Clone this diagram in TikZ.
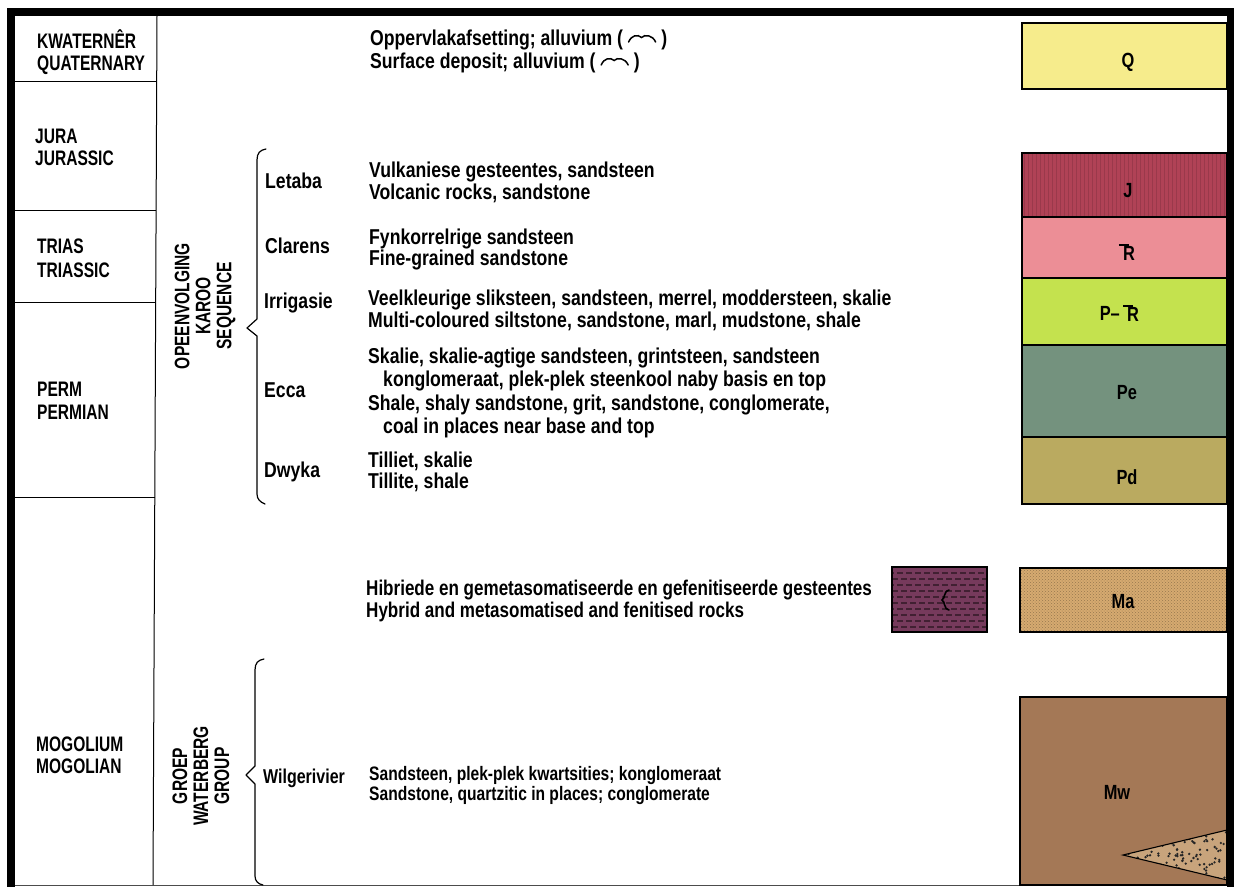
\documentclass[tikz,border=0pt]{standalone}
\usepackage{fontspec}
\setmainfont{Liberation Sans}[FakeStretch=0.82]
\newfontfamily\capsfont{Liberation Sans}[FakeStretch=0.74]
\newfontfamily\lowfont{Liberation Sans}[FakeStretch=0.8]
\usetikzlibrary{patterns}
\newcommand\alluv{\tikz[x=1pt,y=1pt,baseline=0pt]\draw[line width=1.5pt,line cap=round] (0,3) .. controls (3,10) and (9,11) .. (13,7.5) .. controls (16,11) and (24,10) .. (27,3);}
\definecolor{cQ}{RGB}{246,236,140}
\definecolor{cJ}{RGB}{176,66,86}
\definecolor{cTr}{RGB}{236,142,150}
\definecolor{cPTr}{RGB}{196,226,78}
\definecolor{cPe}{RGB}{116,146,126}
\definecolor{cPd}{RGB}{186,170,96}
\definecolor{cMa}{RGB}{214,170,112}
\definecolor{cMw}{RGB}{164,120,86}
\definecolor{cFen}{RGB}{118,58,92}
\definecolor{cTri}{RGB}{200,164,124}
\begin{document}
\begin{tikzpicture}[x=1pt,y=-1pt,
  lbl/.style={anchor=base west, inner sep=0pt, font=\fontsize{21.5}{24}\selectfont\bfseries},
  plbl/.style={anchor=base west, inner sep=0pt, font=\capsfont\fontsize{21}{23}\selectfont\bfseries},
  rlbl/.style={rotate=90, align=center, inner sep=0pt, font=\capsfont\fontsize{21}{21}\selectfont\bfseries},
  sym/.style={inner sep=0pt, font=\lowfont\fontsize{20.5}{23}\selectfont\bfseries},
  unitbox/.style={draw=black, line width=1.8pt},
  bracepath/.style={line width=1.2pt, line join=round, line cap=round},
  rulel/.style={line width=1pt},
  tbar/.style={line width=2.4pt}]
\useasboundingbox (0,0) rectangle (1234,887);
\fill[white] (0,0) rectangle (1234,887);
% frame
\fill[black] (7,8) rectangle (1234,16);
\fill[black] (7,8) rectangle (15,887);
\fill[black] (1227,8) rectangle (1234,887);
\draw[black!70, line width=1pt] (15,885) -- (1227,885);
% period column
\draw[rulel] (157,16) -- (153,885);
\draw[rulel] (15,81) -- (156.8,81);
\draw[rulel] (15,210) -- (156.3,210);
\draw[rulel] (15,302) -- (156,302);
\draw[rulel] (15,497) -- (155,497);
\node[plbl] (p1a) at (37,48) {KWATERNÊR};
\node[plbl] (p1b) at (37,70) {QUATERNARY};
\node[plbl] (p2a) at (35,143) {JURA};
\node[plbl] (p2b) at (35,165) {JURASSIC};
\node[plbl] (p3a) at (37,253) {TRIAS};
\node[plbl] (p3b) at (37,277) {TRIASSIC};
\node[plbl] (p4a) at (37,396) {PERM};
\node[plbl] (p4b) at (37,419) {PERMIAN};
\node[plbl] (p5a) at (36,751) {MOGOLIUM};
\node[plbl] (p5b) at (36,773) {MOGOLIAN};
% rotated group labels
\node[rlbl] (karoo) at (205,306) {OPEENVOLGING\\KAROO\\SEQUENCE};
\node[rlbl] (water) at (201,776) {GROEP\\WATERBERG\\GROUP};
% braces
\draw[bracepath] (266,149) .. controls (260,150) and (257,153) .. (257,160) -- (257,319) -- (247,328) -- (257,336) -- (257,494) .. controls (257,499) and (260,502) .. (265,504);
\draw[bracepath] (264,659) .. controls (258,660) and (255,663) .. (255,670) -- (255,766) -- (246,775) -- (255,784) -- (255,876) .. controls (255,881) and (258,884) .. (263,885);
% formation names
\node[lbl] (f1) at (265,188) {Letaba};
\node[lbl] (f2) at (265,253) {Clarens};
\node[lbl] (f3) at (264,308) {Irrigasie};
\node[lbl] (f4) at (264,397) {Ecca};
\node[lbl] (f5) at (264,477) {Dwyka};
\node[lbl, font=\lowfont\fontsize{20}{22}\selectfont\bfseries] (f6) at (263,783) {Wilgerivier};
% descriptions
\node[lbl] (d1a) at (370,45) {Oppervlakafsetting; alluvium ( \alluv\ )};
\node[lbl] (d1b) at (370,68) {Surface deposit; alluvium ( \alluv\ )};
\node[lbl] (d2a) at (369,177) {Vulkaniese gesteentes, sandsteen};
\node[lbl] (d2b) at (369,199) {Volcanic rocks, sandstone};
\node[lbl] (d3a) at (369,244) {Fynkorrelrige sandsteen};
\node[lbl] (d3b) at (369,265) {Fine-grained sandstone};
\node[lbl] (d4a) at (368,305) {Veelkleurige sliksteen, sandsteen, merrel, moddersteen, skalie};
\node[lbl] (d4b) at (368,327) {Multi-coloured siltstone, sandstone, marl, mudstone, shale};
\node[lbl] (d5a) at (368,363) {Skalie, skalie-agtige sandsteen, grintsteen, sandsteen};
\node[lbl] (d5b) at (383,386) {konglomeraat, plek-plek steenkool naby basis en top};
\node[lbl] (d5c) at (368,410) {Shale, shaly sandstone, grit, sandstone, conglomerate,};
\node[lbl] (d5d) at (383,433) {coal in places near base and top};
\node[lbl] (d6a) at (368,467) {Tilliet, skalie};
\node[lbl] (d6b) at (368,488) {Tillite, shale};
\node[lbl, font=\lowfont\fontsize{21.3}{24}\selectfont\bfseries] (d7a) at (366,595) {Hibriede en gemetasomatiseerde en gefenitiseerde gesteentes};
\node[lbl, font=\lowfont\fontsize{21.3}{24}\selectfont\bfseries] (d7b) at (366,617) {Hybrid and metasomatised and fenitised rocks};
\node[lbl, font=\lowfont\fontsize{19.5}{22}\selectfont\bfseries] (d8a) at (369,780) {Sandsteen, plek-plek kwartsities; konglomeraat};
\node[lbl, font=\lowfont\fontsize{19.5}{22}\selectfont\bfseries] (d8b) at (369,800) {Sandstone, quartzitic in places; conglomerate};
% legend boxes
\fill[cQ] (1022,23) rectangle (1227,89);
\fill[cJ] (1022,153) rectangle (1227,217);
\foreach \xx in {1024,1028,...,1226} \draw[black, opacity=0.12, line width=0.6pt] (\xx,153) -- (\xx,217);
\fill[cTr] (1022,217) rectangle (1227,278);
\fill[cPTr] (1022,278) rectangle (1227,345);
\fill[cPe] (1022,345) rectangle (1227,437);
\fill[cPd] (1022,437) rectangle (1227,504);
\fill[cMa] (1020,568) rectangle (1227,632);
\fill[pattern=crosshatch dots, pattern color=cMa!70!black] (1020,568) rectangle (1227,632);
\fill[cMw] (1020,697) rectangle (1227,885);
\fill[cFen] (892,567) rectangle (987,632);
\begin{scope}
\clip (892,567) rectangle (987,632);
\foreach \yy [count=\k] in {573,579,...,630} {
  \pgfmathsetmacro\ph{mod(\k,2)*4}
  \draw[cFen!55!black, line width=1.2pt, dash pattern=on 6pt off 3pt, dash phase=\ph pt] (892,\yy) -- (987,\yy);
}
\end{scope}
% triangle in Mw
\fill[cTri] (1123,855) -- (1227,830) -- (1227,880) -- cycle;
\begin{scope}
\clip (1123,855) -- (1227,830) -- (1227,880) -- cycle;
\pgfmathsetseed{11}
\foreach \i in {1,...,150} {
  \fill[black!85] ({1125+rnd*102},{830+rnd*50}) circle (1.3pt);
}
\end{scope}
\draw[black, line width=1.1pt] (1227,830) -- (1123,855) -- (1227,880);
% box outlines
\draw[unitbox] (1022,23) rectangle (1227,89);
\draw[unitbox] (1022,153) rectangle (1227,504);
\draw[unitbox] (1022,217) -- (1227,217);
\draw[unitbox] (1022,278) -- (1227,278);
\draw[unitbox] (1022,345) -- (1227,345);
\draw[unitbox] (1022,437) -- (1227,437);
\draw[unitbox] (1020,568) rectangle (1227,632);
\draw[unitbox] (1020,697) rectangle (1227,885);
\draw[unitbox] (892,567) rectangle (987,632);
% box labels
\node[sym] (sQ) at (1128,62) {Q};
\node[sym] (sJ) at (1128,191) {J};
\node[sym] (sTr) at (1129,253) {R};
\draw[tbar] ([xshift=-4pt,yshift=0.6pt]sTr.north west) -- ([xshift=6pt,yshift=0.6pt]sTr.north west);
\node[sym, anchor=east] (sPTr1) at (1120,313) {P–};
\node[sym, anchor=west] (sPTr2) at (1127,314) {R};
\draw[tbar] ([xshift=-4pt,yshift=0.6pt]sPTr2.north west) -- ([xshift=6pt,yshift=0.6pt]sPTr2.north west);
\node[sym] (sPe) at (1127,393) {Pe};
\node[sym] (sPd) at (1127,477) {Pd};
\node[sym] (sMa) at (1123,602) {Ma};
\node[sym] (sMw) at (1117,792) {Mw};
\coordinate (fsym) at (945,600);
\draw[line width=1.6pt, line cap=round] ([xshift=4pt,yshift=10pt]fsym) .. controls ([xshift=-1pt,yshift=10pt]fsym) and ([xshift=0pt,yshift=1pt]fsym) .. ([xshift=-3pt,yshift=0pt]fsym) .. controls ([xshift=0pt,yshift=-1pt]fsym) and ([xshift=-1pt,yshift=-10pt]fsym) .. ([xshift=4pt,yshift=-10pt]fsym);
\end{tikzpicture}
\end{document}
